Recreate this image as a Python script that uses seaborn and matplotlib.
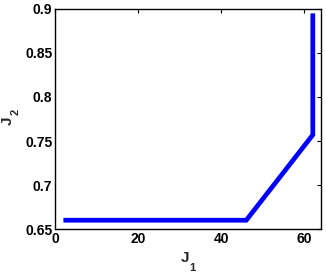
import matplotlib
matplotlib.use("Agg")
import matplotlib.pyplot as plt
import seaborn as sns
import pandas as pd

j1 = [2, 46, 62, 62]
j2 = [0.66, 0.66, 0.757, 0.895]
xticks = [0, 20, 40, 60]
yticks = [0.65, 0.7, 0.75, 0.8, 0.85, 0.9]
ytick_labels = ["0.65", "0.7", "0.75", "0.8", "0.85", "0.9"]

sns.set_theme(style="white")
plt.rcParams['font.family'] = ['Liberation Sans', 'DejaVu Sans']

df = pd.DataFrame({"J1": j1, "J2": j2})

fig = plt.figure(figsize=(3.26, 2.72), dpi=100)
ax = fig.add_axes([0.169, 0.158, 0.816, 0.809])
sns.lineplot(data=df, x="J1", y="J2", sort=False, estimator=None, color="#0000ff",
             linewidth=3.4, ax=ax, solid_capstyle="butt", solid_joinstyle="miter")
ax.set_xlim(0, 64)
ax.set_ylim(0.65, 0.9)
ax.set_xticks(xticks)
ax.set_yticks(yticks)
ax.set_yticklabels(ytick_labels)
ax.tick_params(direction="in", length=3, width=0.8, top=True, right=True,
               labelsize=10, pad=2, colors="black")
for lab in ax.get_xticklabels() + ax.get_yticklabels():
    lab.set_fontweight("bold")
for s in ax.spines.values():
    s.set_color("black")
    s.set_linewidth(1.0)

# axis labels: bold "J" with a bold subscript digit
ax.set_xlabel("")
ax.set_ylabel("")
fig.text(0.566, 0.035, "J", fontsize=11, fontweight="bold", ha="center", va="baseline")
fig.text(0.589, 0.005, "1", fontsize=8, fontweight="bold", ha="center", va="baseline")
fig.text(0.025, 0.555, "J", fontsize=11, fontweight="bold", ha="center", va="center", rotation=90)
fig.text(0.048, 0.588, "2", fontsize=8, fontweight="bold", ha="center", va="center", rotation=90)
fig.savefig("out.png", dpi=100)
